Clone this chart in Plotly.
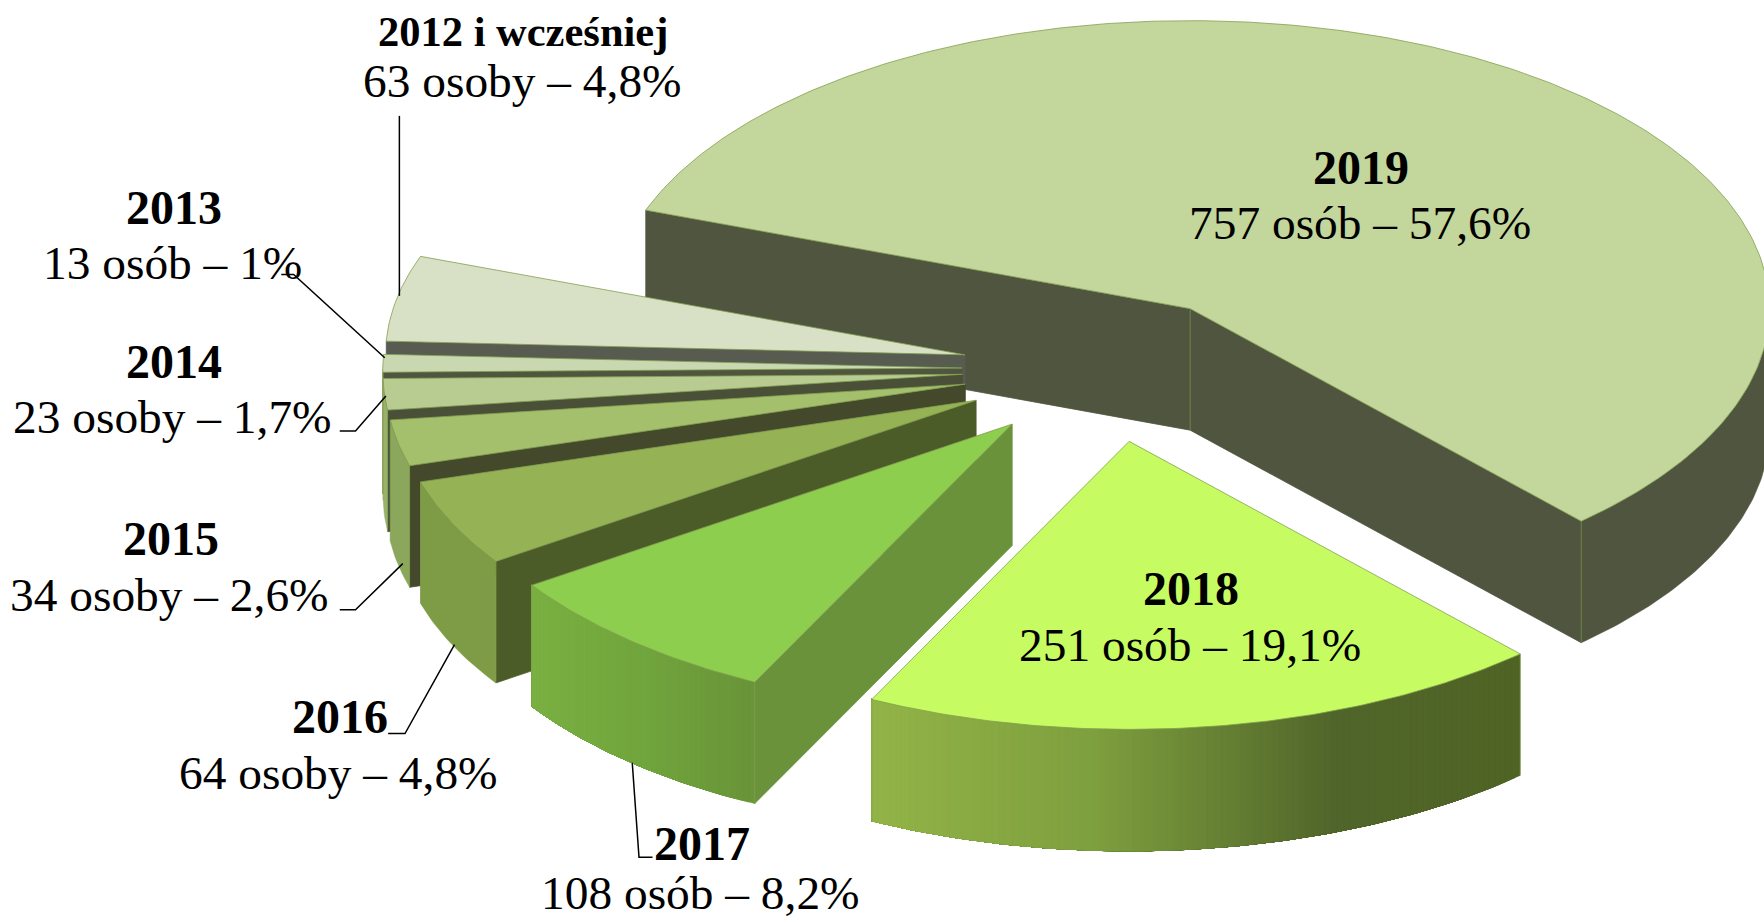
import math
import plotly.graph_objects as go

# ---- data ----
years = ["2019", "2018", "2017", "2016", "2015", "2014", "2013", "2012 i wcześniej"]
counts = [757, 251, 108, 64, 34, 23, 13, 63]
detail = ["757 osób – 57,6%", "251 osób – 19,1%", "108 osób – 8,2%", "64 osoby – 4,8%",
          "34 osoby – 2,6%", "23 osoby – 1,7%", "13 osób – 1%", "63 osoby – 4,8%"]

# ---- styles ----
top_colors = ["#C3D69B", "#C6FC62", "#8DCE4E", "#95B255", "#A4C06C", "#B8CC92", "#C9D8B0", "#D8E0C6"]
cut_colors = ["#50553F", "#4F6424", "#69923A", "#4C5C28", "#43492A", "#4A5038", "#50553F", "#585B50"]
wall_stops = [
    [(0, "#50553F"), (1, "#50553F")],
    [(0, "#92B447"), (0.35, "#7E9F3E"), (0.72, "#50652A"), (1, "#4F6424")],
    [(0, "#7AB041"), (0.5, "#71A53D"), (1, "#699438")],
    [(0, "#7E9B45"), (1, "#7E9B45")],
    [(0, "#8BA75B"), (1, "#8BA75B")],
    [(0, "#98B26A"), (1, "#98B26A")],
    [(0, "#A5BA80"), (1, "#A5BA80")],
    [(0, "#B0C090"), (1, "#B0C090")],
]
EDGE = "#83A050"
FONT = "Liberation Serif"
S = 1764 / 1568  # label positions below were read on the shrunk view

CX, CY = 985.5 * S, 328.2 * S   # pie centre
RX, RY = 515 * S, 256 * S       # projected radii
DEPTH = 108 * S
PULL = 0.253
START = 160.0                    # degrees, runs clockwise

label_pos = {  # (x, y of bold line, x and y of detail line)
    "2019": (1210, 149, 1208.5, 198), "2018": (1059, 523, 1057.5, 573), "2017": (624, 750, 623, 793.5),
    "2016": (302, 637, 300.5, 687), "2015": (152, 479, 150.5, 529), "2014": (155, 321, 153, 371),
    "2013": (155, 184, 153.5, 234), "2012 i wcześniej": (465, 28, 464, 72),
}
leaders = [
    [(355, 103), (355, 263)],
    [(250, 244), (261, 244), (342, 318)],
    [(302, 383), (316, 383), (343, 352)],
    [(302, 542), (316, 542), (358, 501)],
    [(345, 652), (360, 652), (404, 573)],
    [(562, 678), (568, 762), (580, 762)],
]

fig = go.Figure()


def hex_rgb(h):
    return tuple(int(h[i:i + 2], 16) for i in (1, 3, 5))


def grad(stops, f):
    for (f0, c0), (f1, c1) in zip(stops, stops[1:]):
        if f <= f1:
            k = 0 if f1 == f0 else (f - f0) / (f1 - f0)
            a, b = hex_rgb(c0), hex_rgb(c1)
            return "#%02X%02X%02X" % tuple(round(a[i] + (b[i] - a[i]) * k) for i in range(3))
    return stops[-1][1]


def poly(xs, ys, fill, line=None, width=0.8):
    fig.add_trace(go.Scatter(x=xs, y=ys, mode="lines", fill="toself", fillcolor=fill,
                             line=dict(color=line or fill, width=width),
                             hoverinfo="skip", showlegend=False))


def pt(ax, ay, t):
    r = math.radians(t)
    return ax + RX * math.cos(r), ay - RY * math.sin(r)


total = sum(counts)
spans = []
a = START
for c in counts:
    b = a - 360.0 * c / total
    spans.append((a, b))
    a = b


def wall(ax, ay, ts, fill):
    top = [pt(ax, ay, t) for t in ts]
    xs = [p[0] for p in top] + [p[0] for p in reversed(top)] + [top[0][0]]
    ys = [p[1] for p in top] + [p[1] + DEPTH for p in reversed(top)] + [top[0][1]]
    poly(xs, ys, fill, width=0.5)


def draw(i):
    t1, t2 = spans[i]
    m = math.radians((t1 + t2) / 2)
    ax = CX + PULL * RX * math.cos(m)
    ay = CY - PULL * RY * math.sin(m)
    # cut faces that turn toward the viewer
    for t, visible in ((t1, math.cos(math.radians(t1)) < 0), (t2, math.cos(math.radians(t2)) > 0)):
        if visible:
            px, py = pt(ax, ay, t)
            poly([ax, px, px, ax, ax], [ay, py, py + DEPTH, ay + DEPTH, ay], cut_colors[i])
    # outer wall, only the part on the front half of the ellipse
    n = max(2, int(abs(t1 - t2) * 1.5))
    ts = [t1 + (t2 - t1) * k / n for k in range(n + 1)]
    front = [t for t in ts if math.sin(math.radians(t)) <= 0]
    if len(front) >= 2:
        stops = wall_stops[i]
        if stops[0][1] == stops[-1][1]:
            wall(ax, ay, front, stops[0][1])
        else:
            # each strip runs on to the end of the wall, the next paints over it
            xa = [pt(ax, ay, t)[0] for t in front]
            lo, hi = min(xa), max(xa)
            order = range(len(front) - 1)
            if xa[0] > xa[-1]:
                seq = [front[k:] for k in order]
            else:
                seq = [front[:len(front) - k] for k in order]
            for part in seq:
                edge_x = pt(ax, ay, part[0] if xa[0] > xa[-1] else part[-1])[0]
                # gradient reads left to right
                f = (edge_x - lo) / max(hi - lo, 1e-6)
                wall(ax, ay, part, grad(stops, f))
    # vertical seams between the walls
    for t in (t1, t2):
        if math.sin(math.radians(t)) < 0:
            px, py = pt(ax, ay, t)
            fig.add_trace(go.Scatter(x=[px, px], y=[py, py + DEPTH], mode="lines",
                                     line=dict(color=EDGE, width=0.6),
                                     hoverinfo="skip", showlegend=False))
    if math.cos(math.radians(t1)) < 0 and math.cos(math.radians(t2)) > 0:
        fig.add_trace(go.Scatter(x=[ax, ax], y=[ay, ay + DEPTH], mode="lines",
                                 line=dict(color=EDGE, width=0.6),
                                 hoverinfo="skip", showlegend=False))
    # top face
    arc = [pt(ax, ay, t) for t in ts]
    poly([ax] + [p[0] for p in arc] + [ax], [ay] + [p[1] for p in arc] + [ay],
         top_colors[i], EDGE, 0.8)


# back to front
for i in [0, 7, 6, 5, 4, 3, 2, 1]:
    draw(i)

for seg in leaders:
    fig.add_trace(go.Scatter(x=[p[0] * S for p in seg], y=[p[1] * S for p in seg], mode="lines",
                             line=dict(color="#000000", width=1.5),
                             hoverinfo="skip", showlegend=False))

annotations = []
for y, d in zip(years, detail):
    lx, ly1, dx, ly2 = label_pos[y]
    size = 42.5 if y.startswith("2012") else 48
    annotations.append(dict(x=lx * S, y=ly1 * S, text="<b>%s</b>" % y, showarrow=False,
                            xanchor="center", yanchor="middle",
                            font=dict(family=FONT, size=size, color="#000000")))
    annotations.append(dict(x=dx * S, y=ly2 * S, text=d, showarrow=False,
                            xanchor="center", yanchor="middle",
                            font=dict(family=FONT, size=47.4, color="#000000")))

fig.update_layout(
    width=1764, height=920, margin=dict(l=0, r=0, t=0, b=0),
    paper_bgcolor="#FFFFFF", plot_bgcolor="#FFFFFF", showlegend=False,
    xaxis=dict(range=[0, 1764], visible=False, fixedrange=True),
    yaxis=dict(range=[920, 0], visible=False, fixedrange=True),
    annotations=annotations,
)
fig.write_html("out.html", config={"displayModeBar": False},
               post_script="document.body.style.margin='0';document.body.style.overflow='hidden';")
